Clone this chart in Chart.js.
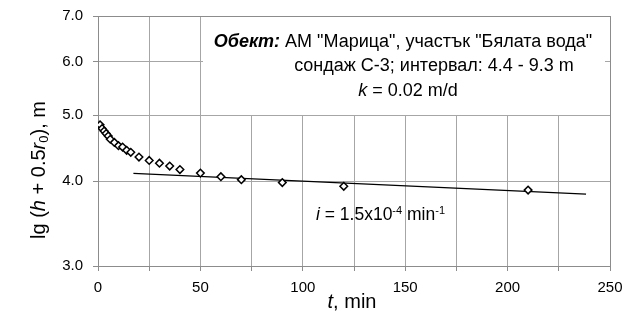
<!DOCTYPE html>
<html><head><meta charset="utf-8">
<script src="https://cdn.jsdelivr.net/npm/chart.js@4"></script>
<style>html,body{margin:0;padding:0;background:#fff;}#wrap{width:636px;height:311px;position:relative;}</style>
</head><body><div id="wrap"><canvas id="c" width="636" height="311"></canvas></div>
<script>
// ---- data ----
const timeMin   = [1, 2, 3, 4, 5, 6, 8, 10, 12, 14, 16, 20, 25, 30, 35, 40, 50, 60, 70, 90, 120, 210];
const levelVals = [4.84, 4.78, 4.74, 4.70, 4.66, 4.61, 4.56, 4.51, 4.49, 4.44, 4.41, 4.34, 4.29, 4.25, 4.21, 4.16, 4.11, 4.06, 4.02, 3.98, 3.93, 3.88];
const fitTime   = [17.3, 238.3];
const fitVals   = [4.105, 3.828];
const yTicks    = [3, 4, 5, 6, 7];
const xTickStep = 25;
const xLabelEvery = 50;

const FONT = "'Liberation Sans', Arial, sans-serif";

function drawRuns(ctx, runs, x, y, align) {
  // runs: [text, style, size, dy]
  let total = 0;
  runs.forEach(r => { ctx.font = r[1] + ' ' + r[2] + 'px ' + FONT; r.w = ctx.measureText(r[0]).width; total += r.w; });
  let cx = align === 'center' ? x - total / 2 : x;
  runs.forEach(r => {
    ctx.font = r[1] + ' ' + r[2] + 'px ' + FONT;
    ctx.fillText(r[0], cx, y + (r[3] || 0));
    cx += r.w;
  });
}

const textPlugin = {
  id: 'texts',
  beforeDatasetsDraw(chart) {
    const ctx = chart.ctx, a = chart.chartArea;
    ctx.save();
    // white annotation box covering grid
    ctx.fillStyle = '#fff';
    ctx.fillRect(203, a.top + 1, 402, 98);
    // plot border
    ctx.strokeStyle = '#8c8c8c';
    ctx.lineWidth = 1;
    ctx.strokeRect(Math.round(a.left) + 0.5, Math.round(a.top) + 0.5, Math.round(a.right - a.left), Math.round(a.bottom - a.top));
    ctx.restore();
  },
  afterDraw(chart) {
    const ctx = chart.ctx;
    ctx.save();
    ctx.fillStyle = '#000';
    ctx.textBaseline = 'middle';
    drawRuns(ctx, [['Обект:', 'italic bold', 18], [' АМ "Марица", участък "Бялата вода"', 'normal', 18]], 403, 42, 'center');
    drawRuns(ctx, [['сондаж С-3; интервал: 4.4 - 9.3 m', 'normal', 18]], 434, 66, 'center');
    drawRuns(ctx, [['k', 'italic', 18], [' = 0.02 m/d', 'normal', 18]], 408, 91, 'center');
    drawRuns(ctx, [['i', 'italic', 17.5], [' = 1.5x10', 'normal', 17.5], ['-4', 'normal', 11, -4], [' min', 'normal', 17.5], ['-1', 'normal', 11, -4]], 316, 215, 'left');
    // x title
    drawRuns(ctx, [['t', 'italic', 20], [', min', 'normal', 20]], 352, 302, 'center');
    // y title
    ctx.translate(39, 170);
    ctx.rotate(-Math.PI / 2);
    drawRuns(ctx, [['lg (', 'normal', 20], ['h', 'italic', 20], [' + 0.5', 'normal', 20], ['r', 'italic', 20], ['0', 'normal', 13, 5], ['), m', 'normal', 20]], 0, 0, 'center');
    ctx.restore();
  }
};

new Chart(document.getElementById('c'), {
  type: 'scatter',
  data: {
    datasets: [
      {
        label: 'data',
        data: timeMin.map((t, i) => ({ x: t, y: levelVals[i] })),
        pointStyle: 'rectRot',
        pointRadius: 3.8,
        pointBorderWidth: 1.5,
        pointBorderColor: '#000',
        pointBackgroundColor: '#fff',
        showLine: false,
        order: 1
      },
      {
        label: 'fit',
        data: fitTime.map((t, i) => ({ x: t, y: fitVals[i] })),
        showLine: true,
        borderColor: '#000',
        borderWidth: 1.3,
        pointRadius: 0,
        order: 2
      }
    ]
  },
  options: {
    responsive: false,
    animation: false,
    devicePixelRatio: 1,
    layout: { padding: { left: 0, top: 16, right: 26, bottom: 0 } },
    plugins: { legend: { display: false }, tooltip: { enabled: false } },
    scales: {
      x: {
        type: 'linear', min: 0, max: 250,
        afterFit: s => { s.height = 45; },
        ticks: {
          stepSize: xTickStep, autoSkip: false, maxRotation: 0,
          color: '#000', font: { family: FONT, size: 15 }, padding: 8,
          callback: v => (v % xLabelEvery === 0 ? String(v) : '')
        },
        grid: { color: '#a6a6a6', lineWidth: 1, tickLength: 5, tickColor: '#8c8c8c' },
        border: { color: '#8c8c8c' }
      },
      y: {
        type: 'logarithmic', min: 3, max: 7,
        afterFit: s => { s.width = 98; s.paddingTop = 0; s.paddingBottom = 0; },
        afterBuildTicks: s => { s.ticks = yTicks.map(v => ({ value: v })); },
        ticks: {
          autoSkip: false, color: '#000', font: { family: FONT, size: 15, lineHeight: 0.8 }, padding: 10,
          callback: v => Number(v).toFixed(1)
        },
        grid: { color: '#a6a6a6', lineWidth: 1, tickLength: 5, tickColor: '#8c8c8c' },
        border: { color: '#8c8c8c' }
      }
    }
  },
  plugins: [textPlugin]
});
</script>
</body></html>
